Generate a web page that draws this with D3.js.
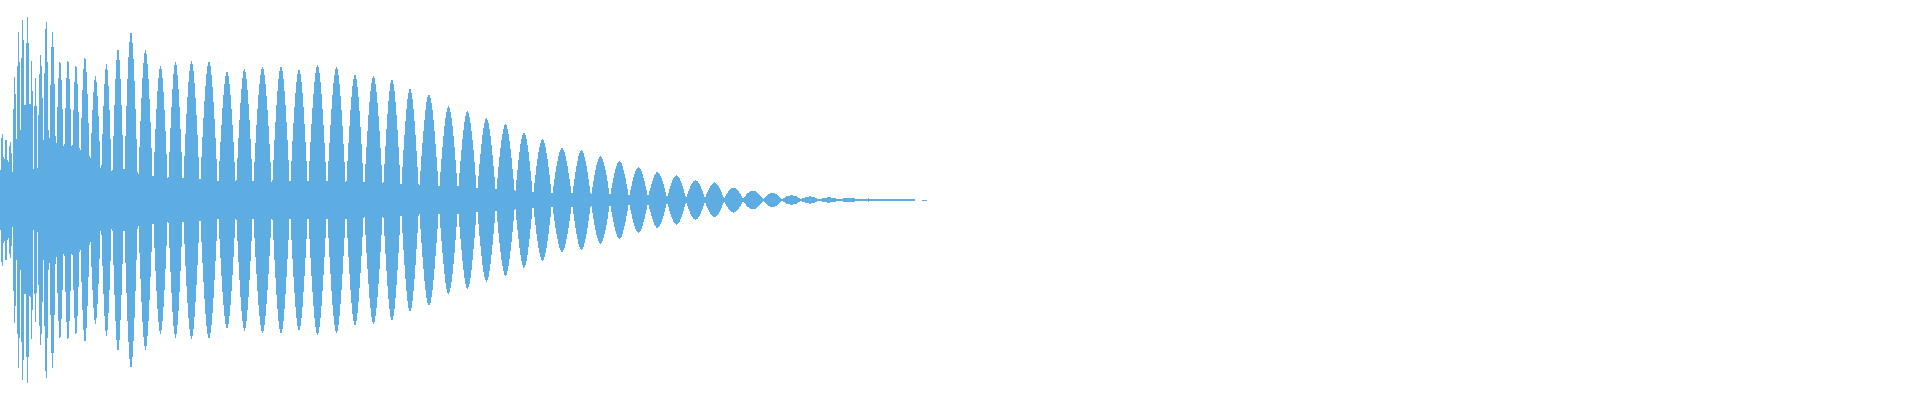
<!DOCTYPE html>
<html>
<head>
<meta charset="utf-8">
<title>Waveform</title>
<script src="https://cdn.jsdelivr.net/npm/d3@7"></script>
<style>
  html, body { margin: 0; padding: 0; background: #fff; }
  #chart { width: 1920px; height: 400px; }
</style>
</head>
<body>
<div id="chart"></div>
<script>
// clip length in seconds (whole width of the view)
const duration = 1.92;

// zero crossings of the envelope (seconds) - one lobe between each pair
const lobeEdges = [
  0, 0.004, 0.008, 0.0125, 0.0165, 0.0205, 0.025, 0.030, 0.0335, 0.0375,
  0.0435, 0.049, 0.056, 0.064, 0.072, 0.080, 0.090, 0.101, 0.112, 0.124,
  0.138, 0.153, 0.168, 0.183, 0.200, 0.218, 0.236, 0.253, 0.272, 0.290,
  0.308, 0.327, 0.346, 0.364, 0.383, 0.401, 0.419, 0.439, 0.458, 0.477,
  0.496, 0.515, 0.533, 0.552, 0.572, 0.591, 0.610, 0.629, 0.648, 0.667,
  0.686, 0.705, 0.724, 0.743, 0.763, 0.782, 0.801, 0.819, 0.839, 0.859,
  0.878, 0.897, 0.915, 0.922, 0.927
];

// envelope amplitude where two lobes meet (same length as lobeEdges)
const edgeAmp = [
  0.04, 0.135, 0.135, 0.135, 0.30, 0.35, 0.275, 0.30, 0.15, 0.16,
  0.30, 0.165, 0.185, 0.175, 0.175, 0.165, 0.14, 0.09, 0.065, 0.07,
  0.06, 0.055, 0.05, 0.05, 0.05, 0.045, 0.045, 0.045, 0.045, 0.045,
  0.045, 0.045, 0.045, 0.04, 0.04, 0.035, 0.035, 0.035, 0.035, 0.03,
  0.025, 0.02, 0.015, 0.015, 0.015, 0.015, 0.015, 0.0125, 0.0125, 0.01,
  0.01, 0.01, 0.0075, 0.0075, 0.005, 0.005, 0.005, 0.0035, 0.0035, 0.003,
  0.0025, 0.0025, 0.0025, 0.0025, 0.0025
];

// peak amplitude of each lobe (0..1)
const lobePeak = [
  0.34, 0.315, 0.295, 0.615, 0.84, 0.905, 0.915, 0.70, 0.61, 0.725,
  0.905, 0.84, 0.70, 0.705, 0.68, 0.715, 0.62, 0.68, 0.76, 0.84,
  0.75, 0.67, 0.69, 0.695, 0.695, 0.645, 0.655, 0.665, 0.67, 0.655,
  0.675, 0.665, 0.63, 0.62, 0.605, 0.56, 0.53, 0.47, 0.445, 0.41,
  0.38, 0.34, 0.305, 0.26, 0.25, 0.22, 0.195, 0.165, 0.14, 0.125,
  0.10, 0.0875, 0.0625, 0.0475, 0.035, 0.025, 0.0185, 0.0135, 0.0115, 0.0075,
  0.005, 0.0035, 0, 0.0025
];

const width = 1920;
const height = 400;
const color = '#5dade2';

const svg = d3.select('#chart')
  .append('svg')
  .attr('width', width)
  .attr('height', height);

const x = d3.scaleLinear().domain([0, duration]).range([0, width]);
const y = d3.scaleLinear().domain([-1, 1]).range([height, 0]);

// each lobe: edge -> peak -> edge, mirrored around zero
const lobes = lobePeak.map((peak, i) => [
  { t: lobeEdges[i], a: edgeAmp[i] },
  { t: (lobeEdges[i] + lobeEdges[i + 1]) / 2, a: peak },
  { t: lobeEdges[i + 1], a: edgeAmp[i + 1] }
]);

const area = d3.area()
  .x(d => x(d.t))
  .y0(d => y(-d.a))
  .y1(d => y(d.a))
  .curve(d3.curveNatural);

svg.append('g')
  .selectAll('path')
  .data(lobes)
  .enter()
  .append('path')
  .attr('d', area)
  .attr('fill', color)
  .attr('shape-rendering', 'crispEdges');
</script>
</body>
</html>
